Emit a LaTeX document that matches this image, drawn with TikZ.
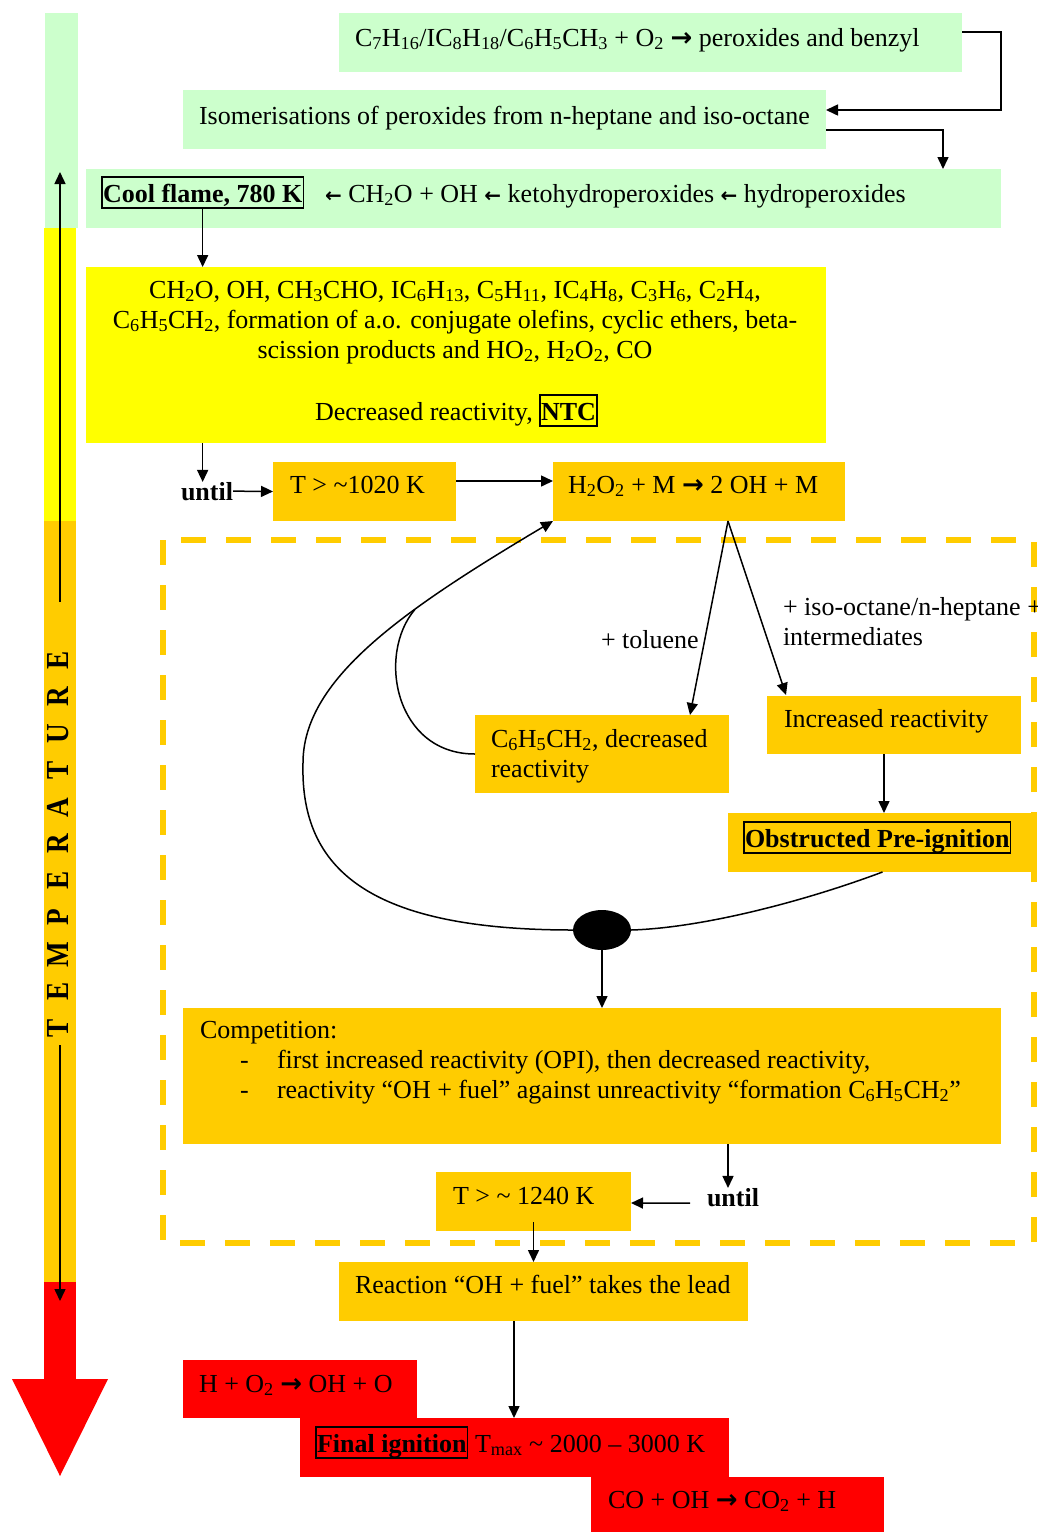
\documentclass[tikz,border=0pt]{standalone}
\usepackage{fontspec}
\usepackage{graphicx}
\setmainfont{Liberation Serif}
\newfontfamily\symfont{DejaVu Sans}
\usetikzlibrary{arrows.meta,shapes.geometric,fit}
\definecolor{lgreen}{HTML}{CCFFCC}
\definecolor{lyellow}{HTML}{FFFF00}
\definecolor{lorange}{HTML}{FFCC00}
\definecolor{lred}{HTML}{FF0000}
\newcommand\sbs[1]{\textsubscript{#1}}
\newcommand\rar{{\symfont\bfseries →}}
\newcommand\lar{{\fontsize{20}{20}\selectfont\symfont\bfseries ←}}
\begin{document}
\begin{tikzpicture}[x=1pt,y=-1pt,
  every node/.style={font=\fontsize{26}{30}\selectfont, inner sep=0pt, outer sep=0pt},
  gbox/.style={fill=lgreen, inner sep=0pt, fit={#1}},
  ybox/.style={fill=lyellow, inner sep=0pt, fit={#1}},
  obox/.style={fill=lorange, inner sep=0pt, fit={#1}},
  rbox/.style={fill=lred, inner sep=0pt, fit={#1}},
  txt/.style={anchor=base west},
  ctxt/.style={anchor=base},
  frm/.style={draw, line width=1.2pt, anchor=base west, font=\fontsize{26}{30}\selectfont\bfseries,
    text height=23pt, text depth=4pt, inner ysep=2pt, inner xsep=1pt},
  bld/.style={anchor=base west, font=\fontsize{26}{30}\selectfont\bfseries},
  arr/.style={-{Triangle[length=12pt,width=11pt]}, line width=1.5pt},
  crv/.style={line width=1.5pt},
  tletter/.style={rotate=90, font=\fontsize{32}{32}\selectfont\bfseries}
]
\useasboundingbox (0,0) rectangle (1037,1532);
\fill[white] (0,0) rectangle (1037,1532);

% temperature bar
\fill[lgreen] (45,13) rectangle (78,228);
\fill[lyellow] (44,228) rectangle (76,521);
\fill[lorange] (44,521) rectangle (76,1282);
\fill[lred] (44,1282) rectangle (76,1380);
\fill[lred] (12,1379) -- (108,1379) -- (60,1476) -- cycle;
\foreach \ch [count=\i from 0] in {T,E,M,P,E,R,A,T,U,R,E}{
  \node[tletter] (tl\i) at (58,{1028-36.8*\i}) {\scalebox{0.85}[1]{\ch}};
}
\coordinate (tupA) at (60,602);
\coordinate (tupB) at (60,172);
\coordinate (tdnA) at (60,1045);
\coordinate (tdnB) at (60,1301);
\draw[arr] (tupA) -- (tupB);
\draw[arr] (tdnA) -- (tdnB);

% dashed region
\draw[lorange, line width=6pt, dash pattern=on 25pt off 20pt] (163,540) rectangle (1034,1243);

% boxes
\node[gbox={(339,13)(962,72)}] (b1) {};
\node[gbox={(183,90)(826,149)}] (b2) {};
\node[gbox={(86,169)(1001,228)}] (b3) {};
\node[ybox={(86,267)(826,443)}] (b4) {};
\node[obox={(273,462)(456,521)}] (t1) {};
\node[obox={(553,462)(845,521)}] (h1) {};
\node[obox={(475,715)(729,793)}] (c6) {};
\node[obox={(767,696)(1021,754)}] (inc) {};
\node[obox={(728,813)(1037,872)}] (obs) {};
\node[obox={(183,1008)(1001,1144)}] (comp) {};
\node[obox={(436,1172)(631,1231)}] (t2) {};
\node[obox={(339,1262)(748,1321)}] (re) {};
\node[rbox={(183,1360)(417,1418)}] (ho) {};
\node[rbox={(300,1418)(729,1477)}] (fi) {};
\node[rbox={(591,1477)(884,1532)}] (co) {};
\node[ellipse, fill=black, minimum width=58pt, minimum height=40pt, inner sep=0pt] (dot) at (602,930) {};

% texts
\node[txt] (xb1) at (355,46) {C\sbs7H\sbs{16}/IC\sbs8H\sbs{18}/C\sbs6H\sbs5CH\sbs3 + O\sbs2 \rar{} peroxides and benzyl};
\node[txt] (xb2) at (199,124) {Isomerisations of peroxides from n-heptane and iso-octane};
\node[frm] (cf) at (102,202) {Cool flame, 780 K};
\node[txt] (xb3) at (325,202) {\lar{} CH\sbs2O + OH \lar{} ketohydroperoxides \lar{} hydroperoxides};
\node[ctxt] (xb4a) at (455,298) {CH\sbs2O, OH, CH\sbs3CHO, IC\sbs6H\sbs{13}, C\sbs5H\sbs{11}, IC\sbs4H\sbs8, C\sbs3H\sbs6, C\sbs2H\sbs4,};
\node[ctxt] (xb4b) at (455,328) {C\sbs6H\sbs5CH\sbs2, formation of a.o. conjugate olefins, cyclic ethers, beta-};
\node[ctxt] (xb4c) at (455,358) {scission products and HO\sbs2, H\sbs2O\sbs2, CO};
\node[txt] (xb4d) at (315,420) {Decreased reactivity,};
\node[frm] (ntc) at (540,420) {NTC};
\node[bld] (u1) at (181,500) {until};
\node[txt] (xt1) at (290,493) {T > \textasciitilde1020 K};
\node[txt] (xh1) at (568,493) {H\sbs2O\sbs2 + M \rar{} 2 OH + M};
\node[txt] (ltol) at (601,648) {+ toluene};
\node[txt] (liso) at (783,615) {+ iso-octane/n-heptane +};
\node[txt] (lint) at (783,645) {intermediates};
\node[txt] (xc6a) at (491,747) {C\sbs6H\sbs5CH\sbs2, decreased};
\node[txt] (xc6b) at (491,777) {reactivity};
\node[txt] (xinc) at (784,727) {Increased reactivity};
\node[frm] (xobs) at (744,847) {Obstructed Pre-ignition};
\node[txt] (xcm0) at (200,1038) {Competition:};
\node[txt] (xcd1) at (240,1068) {-};
\node[txt] (xcd2) at (240,1098) {-};
\node[txt] (xcm1) at (277,1068) {first increased reactivity (OPI), then decreased reactivity,};
\node[txt] (xcm2) at (277,1098) {reactivity “OH + fuel” against unreactivity “formation C\sbs6H\sbs5CH\sbs2”};
\node[bld] (u2) at (707,1206) {until};
\node[txt] (xt2) at (453,1204) {T > \textasciitilde{} 1240 K};
\node[txt] (xre) at (355,1293) {Reaction “OH + fuel” takes the lead};
\node[txt] (xho) at (199,1392) {H + O\sbs2 \rar{} OH + O};
\node[frm] (xfi) at (316,1452) {Final ignition};
\node[txt] (xfi2) at (475,1452) {T\sbs{max} \textasciitilde{} 2000 – 3000 K};
\node[txt] (xco) at (608,1508) {CO + OH \rar{} CO\sbs2 + H};

% connectors
\draw[arr] ([yshift=10.5pt]b1.east) -- ++(39,0) |- ([yshift=9.5pt]b2.east);
\draw[arr] ([yshift=-10.5pt]b2.east) -| ([xshift=-58pt]b3.north east);
\draw[arr] (cf.south) -- (cf.south |- b4.north);
\draw[arr] (cf.south |- b4.south) -- (cf.south |- u1.north);
\draw[arr] (u1.east) -- (t1.west);
\draw[arr] ([yshift=10.5pt]t1.east) -- ([yshift=10.5pt]h1.west);
\draw[arr] ([xshift=29pt]h1.south) -- ([xshift=88pt]c6.north);
\draw[arr] ([xshift=29pt]h1.south) -- ([xshift=-108pt,yshift=1pt]inc.north);
\draw[arr] ([xshift=-10pt]inc.south) -- ([xshift=-10pt]inc.south |- obs.north);
\draw[crv] (obs.south) .. controls +(-80,30) and +(70,-2) .. (dot.east);
\draw[arr] (dot.south) -- (dot.south |- comp.north);
\coordinate (bend) at (303,763);
\draw[arr] (dot.west) .. controls +(-203,0) and +(-3,107) .. (bend)
   .. controls +(0,-83) and +(-153,91) .. (h1.south west) coordinate[pos=0.65] (merge);
\draw[crv] (c6.west) .. controls +(-80,0) and +(-38,45) .. (merge);
\draw[arr] ([xshift=-5pt]u2.north |- comp.south) -- ([xshift=-5pt]u2.north);
\draw[arr] ([shift={(-17pt,-6pt)}]u2.west) -- ([yshift=-1.5pt]t2.east);
\draw[arr] ([yshift=9pt]t2.south) -- (t2.south |- re.north);
\draw[arr] ([xshift=-29.5pt]re.south) -- ([xshift=-29.5pt]re.south |- fi.north);
\end{tikzpicture}
\end{document}
